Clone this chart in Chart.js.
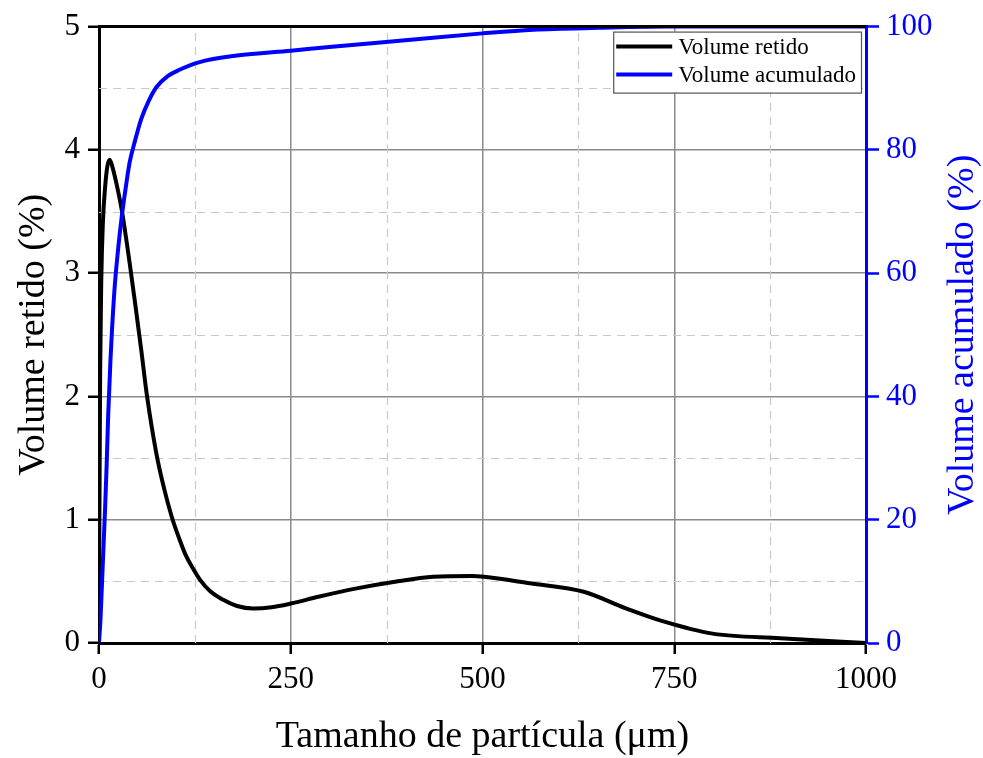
<!DOCTYPE html>
<html>
<head>
<meta charset="utf-8">
<script src="https://cdn.jsdelivr.net/npm/chart.js@4.4.1/dist/chart.umd.min.js"></script>
<style>
  html, body { margin: 0; padding: 0; background: #fff; }
  #wrap { width: 983px; height: 758px; position: relative; }
</style>
</head>
<body>
<div id="wrap"><canvas id="c"></canvas></div>
<script>
// ---- data ----
const sizesRetido = [0, 0.5, 1.5, 3, 5, 8, 11, 14, 18, 23, 30, 40, 47, 55, 62, 75, 85, 95, 105, 114, 123, 132, 145, 162, 180, 201, 225, 250, 286, 336, 386, 436, 486, 502, 562, 632, 687, 737, 798, 888, 1000];
const volumeRetido = [0, 1.0, 2.2, 2.95, 3.4, 3.7, 3.87, 3.92, 3.85, 3.72, 3.5, 3.08, 2.76, 2.38, 2.03, 1.53, 1.25, 1.02, 0.84, 0.70, 0.60, 0.51, 0.42, 0.35, 0.30, 0.28, 0.29, 0.32, 0.375, 0.443, 0.497, 0.537, 0.543, 0.537, 0.484, 0.416, 0.281, 0.173, 0.078, 0.038, 0.0];

const sizesAcum = [0, 2, 4, 6, 8, 10, 12, 15, 20, 25, 30, 35, 40, 47, 55, 65, 75, 90, 105, 130, 180, 250, 300, 392, 500, 566, 650, 740, 800, 1000];
const volumeAcumulado = [0, 4, 10, 16, 22, 29, 37, 46, 57, 64, 69.5, 74, 78, 81.5, 85, 88, 90.2, 92, 93, 94.2, 95.3, 96.1, 96.7, 97.7, 98.9, 99.5, 99.8, 100, 100, 100];

const xTicks = [0, 250, 500, 750, 1000];
const xMinor = [125, 375, 625, 875];
const yTicks = [0, 1, 2, 3, 4, 5];
const yMinor = [0.5, 1.5, 2.5, 3.5, 4.5];
const y2Ticks = [0, 20, 40, 60, 80, 100];

const labels = {
  retido: 'Volume retido',
  acumulado: 'Volume acumulado',
  xTitle: 'Tamanho de partícula (\u03BCm)',
  yTitle: 'Volume retido (%)',
  y2Title: 'Volume acumulado (%)'
};

const FONT = "'Liberation Serif', 'Times New Roman', serif";
const BLUE = '#0000ff';

const toPts = (xs, ys) => xs.map((x, i) => ({ x: x, y: ys[i] }));

const edgeTransparent = (min, max, col) => (ctx) => {
  const v = ctx.tick ? ctx.tick.value : null;
  if (v === min || v === max) return 'rgba(0,0,0,0)';
  return col;
};

const framePlugin = {
  id: 'frame',
  beforeDatasetsDraw(chart) {
    const { ctx, chartArea: a, scales } = chart;
    ctx.save();
    ctx.strokeStyle = '#c8c8c8';
    ctx.lineWidth = 1.2;
    ctx.setLineDash([8, 6]);
    xMinor.forEach(v => {
      const px = Math.round(scales.x.getPixelForValue(v)) + 0.5;
      ctx.beginPath(); ctx.moveTo(px, a.bottom); ctx.lineTo(px, a.top); ctx.stroke();
    });
    yMinor.forEach(v => {
      const py = Math.round(scales.y.getPixelForValue(v)) + 0.5;
      ctx.beginPath(); ctx.moveTo(a.left, py); ctx.lineTo(a.right, py); ctx.stroke();
    });
    ctx.restore();
  },
  afterDraw(chart) {
    const { ctx, chartArea: a } = chart;
    ctx.save();
    // top frame line
    ctx.strokeStyle = '#000';
    ctx.lineWidth = 3;
    ctx.beginPath(); ctx.moveTo(a.left - 1, a.top); ctx.lineTo(a.right, a.top); ctx.stroke();
    // right axis title, reading bottom-to-top
    ctx.save();
    ctx.translate(963, (a.top + a.bottom) / 2);
    ctx.rotate(-Math.PI / 2);
    ctx.font = '38px ' + FONT;
    ctx.fillStyle = BLUE;
    ctx.textAlign = 'center';
    ctx.textBaseline = 'middle';
    ctx.fillText(labels.y2Title, 0, 0);
    ctx.restore();
    // legend
    ctx.font = '23px ' + FONT;
    const items = [chart.data.datasets[1], chart.data.datasets[0]];
    const tw = Math.max(...items.map(d => ctx.measureText(d.label).width));
    const lineLen = 56, gap = 6, pad = 3, rowH = 28;
    const w = pad + lineLen + gap + tw + 5;
    const h = rowH * items.length + 5;
    const bx = a.right - 5 - w, by = a.top + 5;
    ctx.fillStyle = '#fff';
    ctx.fillRect(bx, by, w, h);
    ctx.strokeStyle = '#555';
    ctx.lineWidth = 1.2;
    ctx.strokeRect(bx + 0.5, by + 0.5, w, h);
    items.forEach((d, i) => {
      const cy = by + 15 + i * rowH;
      ctx.strokeStyle = d.borderColor;
      ctx.lineWidth = 4;
      ctx.beginPath(); ctx.moveTo(bx + pad, cy); ctx.lineTo(bx + pad + lineLen, cy); ctx.stroke();
      ctx.fillStyle = '#000';
      ctx.textBaseline = 'middle';
      ctx.textAlign = 'left';
      ctx.fillText(d.label, bx + pad + lineLen + gap, cy + 1);
    });
    ctx.restore();
  }
};

const plainTick = v => String(v);

new Chart(document.getElementById('c'), {
  type: 'line',
  data: {
    datasets: [
      {
        label: labels.acumulado,
        data: toPts(sizesAcum, volumeAcumulado),
        yAxisID: 'y2',
        borderColor: BLUE,
        borderWidth: 4,
        pointRadius: 0,
        cubicInterpolationMode: 'monotone',
        fill: false,
        order: 0
      },
      {
        label: labels.retido,
        data: toPts(sizesRetido, volumeRetido),
        yAxisID: 'y',
        borderColor: '#000000',
        borderWidth: 4,
        pointRadius: 0,
        cubicInterpolationMode: 'monotone',
        fill: false,
        order: 1
      }
    ]
  },
  options: {
    responsive: true,
    maintainAspectRatio: false,
    animation: false,
    layout: { padding: { top: 25, left: 0, right: 0, bottom: 0 } },
    plugins: { legend: { display: false }, tooltip: { enabled: false } },
    scales: {
      x: {
        type: 'linear',
        min: 0, max: 1000,
        afterBuildTicks: s => { s.ticks = xTicks.map(v => ({ value: v })); },
        afterFit: s => { s.height = 115; },
        grid: {
          color: edgeTransparent(0, 1000, '#8a8a8a'),
          lineWidth: 1.5,
          drawTicks: true, tickLength: 11, tickColor: '#000', tickWidth: 2.5
        },
        border: { display: true, color: '#000', width: 3 },
        ticks: { color: '#000', font: { family: FONT, size: 31 }, padding: 7, maxRotation: 0, callback: plainTick },
        title: { display: true, text: labels.xTitle, color: '#000', font: { family: FONT, size: 38, lineHeight: 1.05 }, padding: { top: 0, bottom: 1 } }
      },
      y: {
        type: 'linear', position: 'left',
        min: 0, max: 5,
        afterBuildTicks: s => { s.ticks = yTicks.map(v => ({ value: v })); },
        afterFit: s => { s.width = 99; },
        grid: {
          color: edgeTransparent(0, 5, '#8a8a8a'),
          lineWidth: 1.5,
          drawTicks: true, tickLength: 11, tickColor: '#000', tickWidth: 2.5
        },
        border: { display: true, color: '#000', width: 3 },
        ticks: { color: '#000', font: { family: FONT, size: 31 }, padding: 8, callback: plainTick },
        title: { display: true, text: labels.yTitle, color: '#000', font: { family: FONT, size: 38, lineHeight: 1.05 }, padding: { top: 14, bottom: 0 } }
      },
      y2: {
        type: 'linear', position: 'right',
        min: 0, max: 100,
        afterBuildTicks: s => { s.ticks = y2Ticks.map(v => ({ value: v })); },
        afterFit: s => { s.width = 117; },
        grid: {
          drawOnChartArea: false,
          drawTicks: true, tickLength: 13, tickColor: BLUE, tickWidth: 2.5
        },
        border: { display: true, color: BLUE, width: 3 },
        ticks: { color: BLUE, font: { family: FONT, size: 31 }, padding: 7, callback: plainTick },
        title: { display: false, text: labels.y2Title }
      }
    }
  },
  plugins: [framePlugin]
});
</script>
</body>
</html>
